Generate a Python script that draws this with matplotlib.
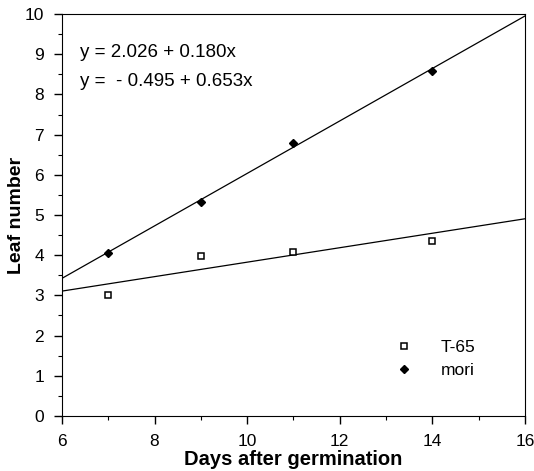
import matplotlib.pyplot as plt
import numpy as np

plt.rcParams['font.family'] = ['Liberation Sans', 'DejaVu Sans']

# datos
dias = [7, 9, 11, 14]
t65 = [3.0, 3.98, 4.09, 4.35]
mori = [4.05, 5.32, 6.78, 8.58]

# coeficientes de las rectas (intercepto, pendiente)
coef_t65 = (2.026, 0.180)
coef_mori = (-0.495, 0.653)

fig = plt.figure(figsize=(5.34, 4.71), dpi=100)
ax = fig.add_axes([0.116, 0.117, 0.867, 0.853])

x_lin = np.array([6, 16])
for b0, b1 in (coef_t65, coef_mori):
    ax.plot(x_lin, b0 + b1 * x_lin, color='black', lw=0.9)

ax.plot(dias, t65, linestyle='none', marker='s', ms=5, mfc='white',
        mec='black', mew=1.1, label='T-65')
ax.plot(dias, mori, linestyle='none', marker='D', ms=4, color='black',
        label='mori')

ax.text(0.04, 0.905, 'y = 2.026 + 0.180x', transform=ax.transAxes,
        fontsize=13.5, va='center')
ax.text(0.04, 0.833, 'y =  - 0.495 + 0.653x', transform=ax.transAxes,
        fontsize=13.5, va='center')

ax.set_xlim(6, 16)
ax.set_ylim(0, 10)
ax.set_xticks(np.arange(6, 17, 2))
ax.set_xticks(np.arange(7, 16, 2), minor=True)
ax.set_yticks(np.arange(0, 11, 1))
ax.set_yticks(np.arange(0.5, 10, 1), minor=True)
ax.tick_params(which='major', direction='out', length=6, width=1,
               labelsize=12.5)
ax.tick_params(which='minor', direction='out', length=3, width=0.8)
ax.tick_params(axis='y', which='major', pad=7)
ax.tick_params(axis='x', which='major', pad=7)

ax.set_xlabel('Days after germination', fontsize=14.5, fontweight='bold',
              labelpad=1)
ax.set_ylabel('Leaf number', fontsize=14, fontweight='bold')
ax.yaxis.set_label_coords(-0.08, 0.5)

ax.legend(loc='upper left', bbox_to_anchor=(0.701, 0.19), frameon=False,
          fontsize=12.5, handletextpad=1.1, labelspacing=0.45,
          borderpad=0, borderaxespad=0)

plt.savefig('out.png', dpi=100)
